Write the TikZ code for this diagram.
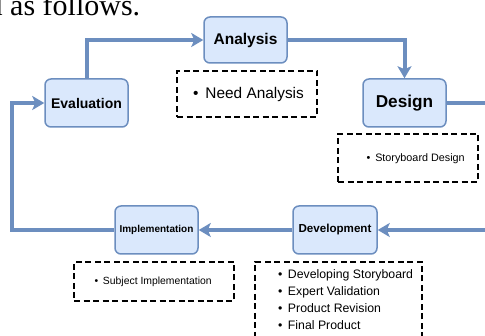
\documentclass[tikz,border=0pt]{standalone}
\usepackage{fontspec}
\setmainfont{Liberation Sans}
\newfontfamily\seriffont{Liberation Serif}
\usetikzlibrary{arrows.meta}
\definecolor{edgeblue}{HTML}{6C8EBF}
\definecolor{fillblue}{HTML}{DAE8FC}
\tikzset{
  stagebox/.style={draw=edgeblue, fill=fillblue, line width=1.5pt, rounded corners=6pt,
    minimum width=83pt, minimum height=48pt, inner sep=0pt, font=\bfseries},
  notebox/.style={draw=black, line width=1.8pt, dash pattern=on 6pt off 3.5pt, inner sep=0pt},
  notetext/.style={anchor=west, inner sep=0pt, align=left},
  flow/.style={draw=edgeblue, line width=4pt, -{Stealth[length=12pt,width=14pt,inset=3pt]}},
}
\newcommand{\fsz}[1]{\fontsize{#1pt}{1.2\dimexpr#1pt\relax}\selectfont}
\begin{document}
\begin{tikzpicture}[x=1pt,y=-1pt]
\clip (0,0) rectangle (485,336);
\fill[white] (0,0) rectangle (485,336);
% cut-off caption text at the top
\node[anchor=base west, inner sep=0pt, font=\seriffont\fsz{30}] (cap) at (-12.5,15.5) {d as follows.};
% stage boxes
\node[stagebox, minimum height=46pt, font=\bfseries\fsz{15.5}] (analysis) at (245.5,40) {Analysis};
\node[stagebox, font=\bfseries\fsz{14}] (eval) at (86.5,103) {Evaluation};
\node[stagebox, font=\bfseries\fsz{17.2}] (design) at (404.5,103) {Design};
\node[stagebox, font=\bfseries\fsz{10}] (impl) at (156.5,230) {Implementation};
\node[stagebox, minimum width=84pt, font=\bfseries\fsz{11.6}] (devel) at (335,230) {Development};
% note boxes
\node[notebox, minimum width=140pt, minimum height=46pt] (needbox) at (247,94) {};
\node[notetext, font=\fsz{15.4}] (needtxt) at (193,94.5) {•\, Need Analysis};
\node[notebox, minimum width=140pt, minimum height=48pt] (storybox) at (408,158) {};
\node[notetext, font=\fsz{10.8}] (storytxt) at (366.5,159) {•\, Storyboard Design};
\node[notebox, minimum width=160pt, minimum height=39pt] (subjbox) at (154,281.5) {};
\node[notetext, font=\fsz{10.4}] (subjtxt) at (94.5,282) {•\, Subject Implementation};
\node[notebox, minimum width=167pt, minimum height=90pt] (devbox) at (338.5,307) {};
\node[notetext, font=\fsz{12.3}, anchor=north west] (devtxt) at (278,268)
  {\begin{tabular}{@{}l@{}}•\, Developing Storyboard\\[2.3pt] •\, Expert Validation\\[2.3pt] •\, Product Revision\\[2.3pt] •\, Final Product\end{tabular}};
% connectors
\coordinate (leftrail) at (12,0);
\coordinate (rightrail) at (500,0);
\draw[flow] (eval.north) |- (analysis.west);
\draw[flow] (analysis.east) -| (design.north);
\draw[flow] (design.east) -- (design.east -| rightrail) |- (devel.east);
\draw[flow] (devel.west) -- (impl.east);
\draw[flow] (impl.west) -- (impl.west -| leftrail) |- (eval.west);
\end{tikzpicture}
\end{document}
